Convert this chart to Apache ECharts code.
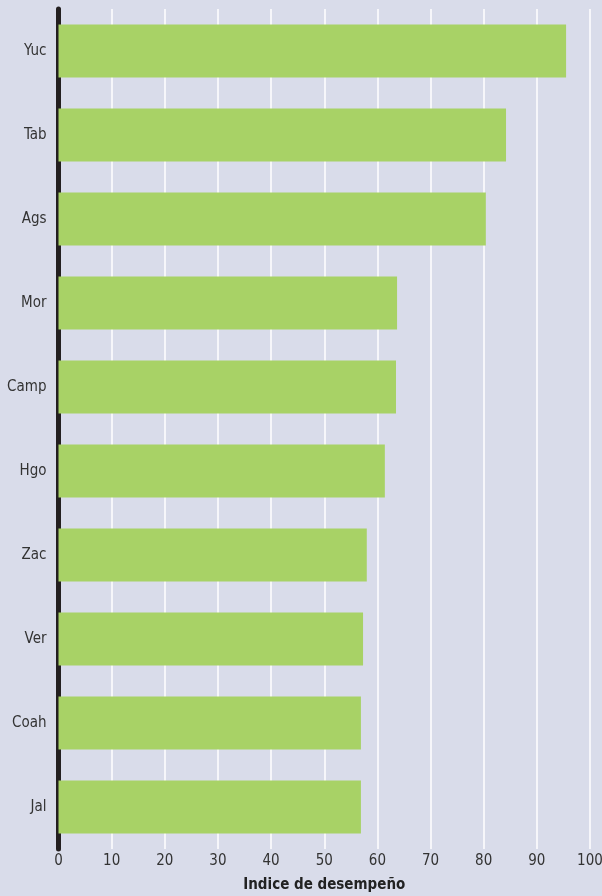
<!DOCTYPE html>
<html><head><meta charset="utf-8">
<script src="https://cdn.jsdelivr.net/npm/echarts@6/dist/echarts.min.js"></script>
<style>html,body{margin:0;padding:0;background:#d9dcea;}#c{width:602px;height:896px;}</style>
</head><body><div id="c"></div>
<script>
const categories = ["Yuc","Tab","Ags","Mor","Camp","Hgo","Zac","Ver","Coah","Jal"];
const values = [95.5, 84.2, 80.4, 63.7, 63.5, 61.4, 58.0, 57.3, 56.9, 56.9];
const xTicks = {min: 0, max: 100, interval: 10};
const axisTitle = "Indice de desempeño";
const FONT = '"Liberation Sans Narrow","DejaVu Sans Condensed",sans-serif';
const chart = echarts.init(document.getElementById('c'), null, {renderer:'canvas'});
chart.setOption({
  backgroundColor: '#d9dcea',
  animation: false,
  grid: {left: 58.5, right: 12, top: 9, bottom: 47, containLabel: false, outerBoundsMode: 'none'},
  xAxis: {
    type: 'value', min: xTicks.min, max: xTicks.max, interval: xTicks.interval,
    axisLine: {show: false}, axisTick: {show: false},
    splitLine: {show: true, lineStyle: {color: '#ffffff', width: 1.5}},
    axisLabel: {color: '#333333', fontSize: 15, fontFamily: FONT, margin: 5},
    name: axisTitle, nameLocation: 'middle', nameGap: 29,
    nameTextStyle: {color: '#222222', fontSize: 15, fontWeight: 'bold', fontFamily: FONT}
  },
  yAxis: {
    type: 'category', data: categories, inverse: true,
    axisLine: {show: true, lineStyle: {color: '#231f20', width: 5}},
    axisTick: {show: false},
    axisLabel: {color: '#333333', fontSize: 15, fontFamily: FONT, margin: 12}
  },
  series: [{
    type: 'bar', data: values, barCategoryGap: '37%',
    itemStyle: {color: '#a8d266'}
  }]
});
</script></body></html>
